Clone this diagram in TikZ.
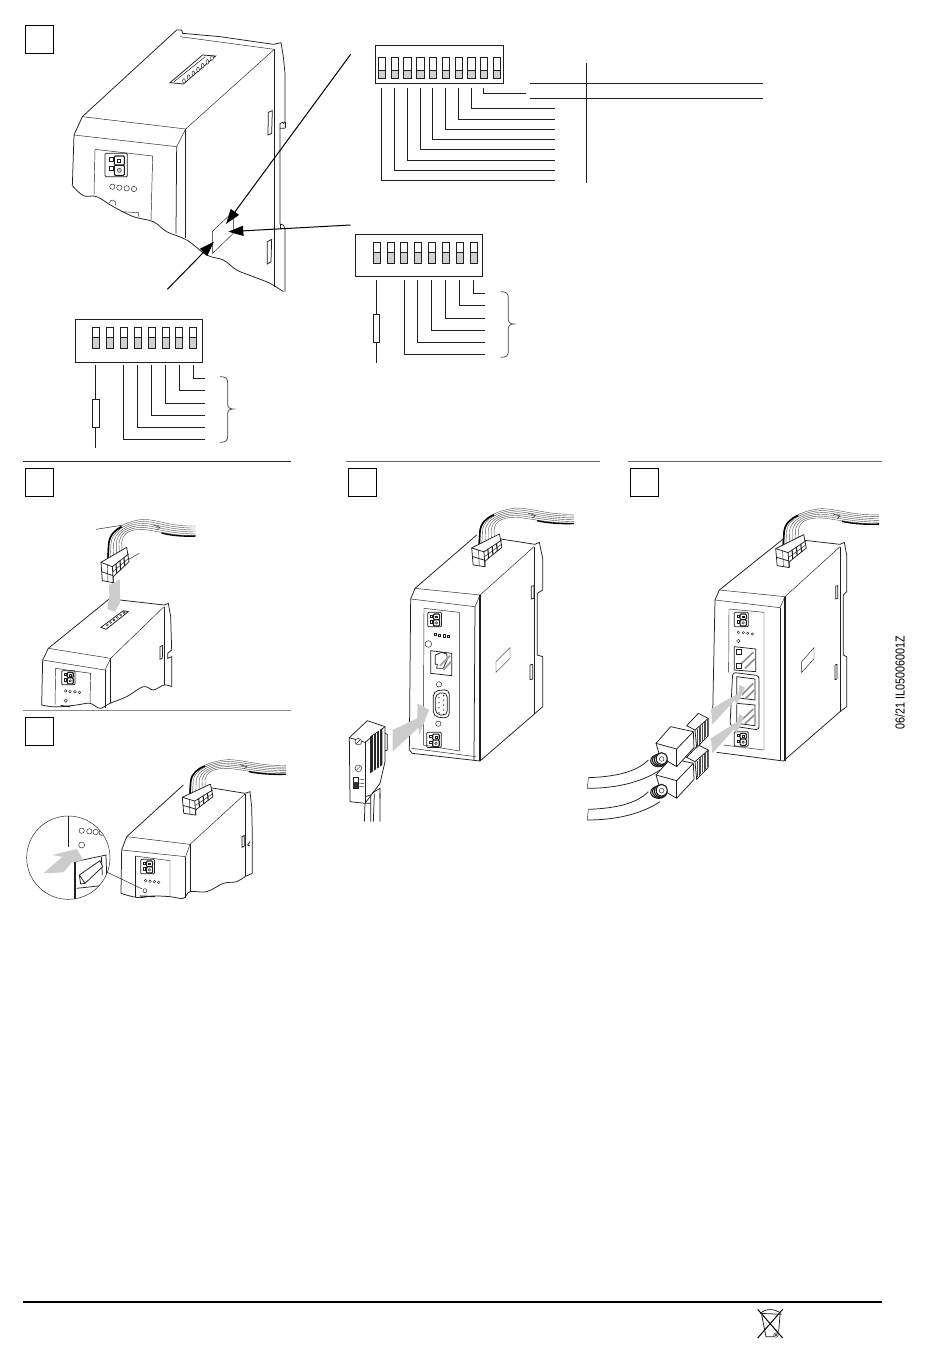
\documentclass[tikz,border=0pt]{standalone}
\usepackage{fontspec}
\setmainfont{Liberation Sans}
\usetikzlibrary{arrows.meta}
\definecolor{sw}{gray}{0.82}
\definecolor{grayarrow}{gray}{0.80}
\definecolor{ln}{gray}{0.12}
\tikzset{
 thinl/.style={line width=.45pt,draw=ln},
 medl/.style={line width=.75pt,draw=ln},
 thickl/.style={line width=1.1pt,draw=ln},
 lead/.style={line width=.75pt,draw=ln},
 tagbox/.style={line width=1pt,draw=black,fill=white},
 garrow/.style={fill=grayarrow,draw=none},
 bigarrow/.style={line width=1pt,draw=black,-{Triangle[length=15pt,width=10pt]}},
 zoomA/.style={shift={(20,20)},scale=.33333},
 zoomB/.style={shift={(20,310)},scale=.33333},
 zoomD/.style={shift={(20,710)},scale=.33333},
 zoomC/.style={shift={(330,455)},scale=.33333},
 zoomE/.style={shift={(580,455)},scale=.33333},
 zoomT/.style={shift={(350,30)},scale=.33333},
 zoomW/.style={shift={(700,1280)},scale=.33333},
}
% terminal block, 67 x 70 units
\newcommand{\termblock}[1]{\begin{scope}[#1]
 \draw[medl,rounded corners=1pt] (0,0) rectangle (67,70);
 \draw[thinl] (12,12) rectangle (24,24) (12,40) rectangle (24,52);
 \draw[thickl,rounded corners=1pt] (28,8) rectangle (58,35) (28,36) rectangle (58,66);
 \draw[thinl] (38,17) rectangle (47,26);
 \draw[thinl,fill=sw] (43,51) circle[radius=6];
\end{scope}}
% ribbon cable with connector: origin = (left of block, top of ribbon)
\newcommand{\ribbon}[1]{\begin{scope}[#1]\begin{scope}[shift={(-243,-627)}]
 \fill[white] (262,745) -- (265,700) .. controls (268,660) and (320,632) .. (370,628) .. controls (420,630) and (450,650) .. (527,648) -- (527,678) .. controls (450,680) and (420,665) .. (370,658) .. controls (335,660) and (308,670) .. (307,745) -- cycle;
 \foreach \t in {0,...,5}{
  \draw[line width=.4pt,draw=black!70] ({262+9*\t},745) -- ({265+8*\t},700) .. controls ({268+8*\t},{660+3*\t}) and (320,{632+5*\t}) .. (370,{628+6*\t}) .. controls (420,{630+7*\t}) and (450,{650+5*\t}) .. (527,{648+6*\t});
 }
 \draw[line width=1.6pt,black] (264,748) -- (266,705) .. controls (268,675) and (285,660) .. (305,650);
 \draw[line width=1.4pt,black] (425,669) .. controls (450,676) and (490,680) .. (527,678);
 \draw[thinl] (400,645) -- (420,652) -- (412,660);
 % connector block
 \draw[medl,fill=white,line join=round] (243,757) -- (320,712) -- (327,755) -- (280,800) -- (280,818) -- (247,812) -- cycle;
 \draw[medl] (243,757) -- (277,770) -- (326,732);
 \draw[medl] (277,770) -- (280,818);
 \draw[medl] (245,785) -- (279,797);
 \draw[thinl] (279,785) -- (326,745);
 \draw[thickl] (288,762) -- (290,790) (300,752) -- (302,780) (312,742) -- (314,768);
 \draw[thinl] (262,764) -- (264,815);
\end{scope}\end{scope}}
% plug of panel E
\newcommand{\rjplug}[1]{\begin{scope}[#1]
 % cable
 \fill[white] (25,968) .. controls (110,965) and (170,950) .. (205,915) -- (240,945) .. controls (180,985) and (100,1000) .. (22,1000) -- cycle;
 \draw[medl] (25,968) .. controls (110,965) and (170,950) .. (205,915);
 \draw[medl] (240,945) .. controls (180,985) and (100,1000) .. (22,1000);
 \draw[thinl] (25,968) -- (22,1000);
 % head
 \draw[medl,fill=white] (320,812) -- (355,775) -- (385,790) -- (385,842) -- (350,878) -- (345,825) -- cycle;
 \draw[medl] (345,825) -- (385,790);
 \foreach \k in {0,...,6}{\draw[line width=.35pt,draw=black!70] ({352+5*\k},{822-5*\k}) -- ({352+5*\k},{872-5*\k});}
 % body
 \draw[medl,fill=white,line join=round] (228,865) -- (272,815) -- (340,830) -- (342,878) -- (290,935) -- (240,905) -- cycle;
 \draw[medl] (228,865) -- (290,882) -- (340,830);
 \draw[medl] (290,882) -- (290,935);
 % strain relief
 \foreach \k in {0,1,2,3}{\draw[thickl,fill=white] ({236+3*\k},{917-2*\k}) ellipse[x radius={24-2.5*\k},y radius={18+.0*\k}];}
 \draw[thinl,fill=white] (245,912) circle[radius=7];
\end{scope}}
\newcommand{\sidelabel}[1]{\draw[thinl] #1;}
\begin{document}
\begin{tikzpicture}[x=1pt,y=-1pt]
\useasboundingbox (0,0) rectangle (950,1353);
\fill[white] (0,0) rectangle (950,1353);

%%%%%%%%%%%%%% Rules
\draw[line width=1.3pt,draw=black!85] (23,461.7) -- (291,461.7);
\draw[line width=.8pt,draw=black!60] (346,461.5) -- (600,461.5);
\draw[line width=.8pt,draw=black!60] (628,461.5) -- (882,461.5);
\draw[line width=.8pt,draw=black!45] (23,710.5) -- (291,710.5);
\draw[line width=1.8pt,black] (23,1302) -- (882,1302);

%%%%%%%%%%%%%% Panel A
\begin{scope}[zoomA]
 \draw[tagbox] (17,15) rectangle (100,100);
 \draw[medl,line join=round] (470,30) -- (187,290) -- (162,345) -- (157,497);
 \draw[medl] (470,30) -- (485,30) -- (488,40) -- (600,50) -- (760,73) -- (783,68);
 \draw[thinl] (480,50) -- (763,88);
 \draw[thinl] (187,290) -- (497,327) -- (763,88);
 \draw[thinl] (162,345) -- (470,380);
 \draw[thinl] (497,327) -- (470,380);
 \draw[medl] (470,380) -- (468,640);
 \draw[thickl] (497,327) -- (497,655);
 \draw[thickl] (763,88) -- (763,800);
 \draw[medl] (783,68) -- (790,110) -- (795,160) -- (795,305) -- (790,312) (795,325) -- (780,325) -- (780,310) -- (790,307);
 \draw[medl] (780,325) -- (780,612) -- (790,615) -- (795,625) -- (795,815);
 \draw[thinl] (795,305) -- (795,325) (780,612) -- (780,625) -- (795,625);
 \draw[medl] (745,277) -- (757,272) -- (755,340) -- (744,345) -- cycle;
 \draw[medl] (742,665) -- (755,658) -- (753,725) -- (742,732) -- cycle;
 \draw[medl] plot[smooth,tension=.6] coordinates {(157,497) (190,527) (230,530) (280,560) (340,590) (400,605) (440,635) (500,660) (560,705) (610,720) (650,750) (700,770) (750,790) (790,815)};
 % top slot
 \draw[medl] (450,188) -- (548,105) -- (587,108) -- (490,192) -- cycle;
 \draw[thinl] (462,185) -- (556,110);
 \foreach \k in {0,...,6}{\draw[thinl,fill=white] ({492+14*\k},{183-11.5*\k}) ellipse[x radius=4,y radius=7];}
 % front
 \draw[thinl] (225,388) -- (398,408) -- (393,603);
 \draw[thinl] (225,388) -- (222,525);
 \termblock{shift={(255,400)}}
 \foreach \k/\yy in {277/500,298/503,320/505,342/507}{\draw[thinl] (\k,\yy) circle[radius=8];}
 \draw[thinl] (268,548) .. controls (272,535) and (290,538) .. (287,556);
 \draw[thinl] (305,575) -- (355,578) -- (357,592);
 % switch flap
 \draw[thinl] (578,633) -- (640,575) -- (640,640) -- (578,700) -- cycle;
 % arrows
 \coordinate (a1s) at (992,103); \coordinate (a1e) at (618,612);
 \coordinate (a2s) at (992,615); \coordinate (a2e) at (625,635);
 \coordinate (a3s) at (442,808); \coordinate (a3e) at (582,665);
 \draw[bigarrow] (a1s) -- (a1e);
 \draw[bigarrow] (a2s) -- (a2e);
 \draw[bigarrow] (a3s) -- (a3e);
\end{scope}

%%%%%%%%%%%%%% DIP switches, upper right
\begin{scope}[zoomT]
 \draw[medl] (76,46) rectangle (461,160);
 \foreach \x in {96,134,172,211,249,288,326,364,402,441}{
  \fill[sw] ({\x-11},122) rectangle ({\x+11},145);
  \draw[medl] ({\x-11},81) rectangle ({\x+11},145);
  \draw[medl] ({\x-11},122) -- ({\x+11},122);
 }
 \foreach \x/\yy in {94/451,133/421,172/391,211/358,248/328,287/298,325/268,364/235}{
  \draw[lead] (\x,175) -- (\x,\yy) -- (615,\yy);
 }
 \draw[lead] (400,175) -- (400,190) -- (527,190);
 \draw[lead] (540,160) -- (1240,160);
 \draw[lead] (540,205) -- (1240,205);
 \draw[lead] (709,100) -- (709,460);
 % second
 \draw[medl] (16,613) rectangle (398,740);
 \foreach \x in {81,123,162,204,246,288,330,372}{
  \fill[sw] ({\x-11},668) rectangle ({\x+11},700);
  \draw[medl] ({\x-11},637) rectangle ({\x+11},700);
  \draw[medl] ({\x-11},668) -- ({\x+11},668);
 }
 \foreach \x/\yy in {163/972,203/937,245/901,287/865,328/827,370/790}{
  \draw[lead] (\x,750) -- (\x,\yy) -- (405,\yy);
 }
 \draw[lead] (79,750) -- (79,1000);
 \draw[lead,fill=white] (70,853) rectangle (88,937);
 \draw[line width=.7pt,draw=black!75] (452,785) .. controls (470,785) and (475,790) .. (475,805) -- (475,868) .. controls (475,878) and (482,882) .. (492,882) .. controls (482,882) and (475,886) .. (475,896) -- (475,962) .. controls (475,977) and (470,982) .. (452,982);
\end{scope}

%%%%%%%%%%%%%% DIP switch, left, and Panel B
\begin{scope}[zoomB]
 \draw[medl] (166,28) rectangle (548,157);
 \foreach \x in {228,270,312,354,396,438,477,518}{
  \fill[sw] ({\x-11},83) rectangle ({\x+11},116);
  \draw[medl] ({\x-11},52) rectangle ({\x+11},116);
  \draw[medl] ({\x-11},83) -- ({\x+11},83);
 }
 \foreach \x/\yy in {311/388,353/352,395/316,437/280,479/241,521/205}{
  \draw[lead] (\x,165) -- (\x,\yy) -- (555,\yy);
 }
 \draw[lead] (226,165) -- (226,415);
 \draw[lead,fill=white] (217,268) rectangle (239,352);
 \draw[line width=.7pt,draw=black!75] (600,200) .. controls (618,200) and (623,205) .. (623,220) -- (623,283) .. controls (623,293) and (630,297) .. (640,297) .. controls (630,297) and (623,301) .. (623,311) -- (623,378) .. controls (623,392) and (618,397) .. (600,397);
 \draw[tagbox] (17,475) rectangle (100,558);

 % device B
 \draw[medl,line join=round] (270,865) -- (85,1015) -- (68,1050) -- (65,1185);
 \draw[medl] (270,865) -- (300,870) -- (432,885) -- (445,880) -- (452,920) -- (455,1020) -- (443,1030) -- (443,1045) -- (455,1040) -- (455,1130);
 \draw[thinl] (85,1015) -- (272,1045) -- (432,890);
 \draw[thinl] (68,1050) -- (255,1080);
 \draw[thinl] (272,1045) -- (255,1080);
 \draw[medl] (255,1080) -- (255,1195);
 \draw[medl] (272,1045) -- (272,1180);
 \draw[medl] (432,890) -- (432,1125);
 \draw[thinl] (107,1075) -- (212,1090) -- (210,1180);
 \draw[thinl] (107,1075) -- (105,1185);
 \termblock{shift={(125,1082)},scale=.6}
 \foreach \k/\yy in {137/1143,150/1145,165/1145,178/1147}{\draw[thinl] (\k,\yy) circle[radius=4];}
 \draw[thinl] (137,1172) circle[radius=5];
 \draw[thickl] (122,1187) -- (150,1190);
 \draw[medl] plot[smooth,tension=.6] coordinates {(65,1185) (95,1190) (125,1190) (170,1185) (210,1180) (240,1195) (270,1180) (320,1160) (370,1130) (400,1140) (432,1125) (455,1130)};
 \draw[medl] (243,952) -- (310,902) -- (325,905) -- (258,958) -- cycle;
 \foreach \k in {0,...,5}{\draw[thinl] ({262+10*\k},{945-7.5*\k}) circle[radius=3];}
 \draw[medl] (420,1010) -- (428,1006) -- (427,1045) -- (420,1048) -- cycle;
 \fill[garrow] (267,825) -- (300,808) -- (300,878) -- (285,905) -- (262,897) -- (268,857) -- cycle;
 \draw[thinl] (228,658) -- (310,645);
 \draw[thinl] (305,760) -- (358,730);
\end{scope}
\ribbon{shift={(101,519)},xscale=.3333,yscale=.3333}

%%%%%%%%%%%%%% Panel D
\begin{scope}[zoomD]
 \draw[tagbox] (17,23) rectangle (100,106);
 \draw[medl,line join=round] (490,225) -- (320,380) -- (305,420) -- (303,550);
 \draw[medl] (565,232) -- (675,250) -- (690,245) -- (695,290) -- (697,375) -- (697,490);
 \draw[thinl] (320,380) -- (510,403) -- (675,252);
 \draw[thinl] (305,420) -- (497,440);
 \draw[thinl] (510,403) -- (497,440);
 \draw[medl] (497,440) -- (497,565);
 \draw[medl] (510,403) -- (510,545);
 \draw[medl] (675,252) -- (675,500);
 \draw[medl] (690,395) -- (683,405) -- (690,408);
 \draw[thinl] (345,438) -- (450,452) -- (450,560);
 \draw[thinl] (345,438) -- (345,560);
 \termblock{shift={(362,448)},scale=.62}
 \foreach \k/\yy in {377/512,390/514,403/515,416/517}{\draw[thinl] (\k,\yy) circle[radius=4];}
 \draw[thinl] (375,542) circle[radius=6];
 \draw[thickl] (360,558) -- (405,560);
 \draw[medl] plot[smooth,tension=.6] coordinates {(303,550) (330,558) (360,563) (400,558) (450,560) (490,565) (510,545) (560,545) (610,520) (650,515) (675,500) (697,490)};
 \draw[medl] (666,380) -- (673,376) -- (673,408) -- (666,412) -- cycle;
 % loupe
 \draw[thinl] (145,443) circle[radius=125];
 \begin{scope}
  \clip (145,443) circle[radius=125];
  \draw[thinl] (145,318) -- (145,410);
  \foreach \k/\yy in {185/362,208/364,227/366,245/368}{\draw[thinl] (\k,\yy) circle[radius=8];}
  \draw[thinl] (185,405) circle[radius=9];
  \draw[thickl] (165,455) -- (165,570);
  \draw[medl] (165,455) -- (258,435) -- (260,495);
  \draw[medl] (244,440) -- (247,495);
  \draw[medl,fill=white] (178,495) -- (240,452) -- (248,470) -- (195,520) -- cycle;
  \draw[medl] (178,495) -- (182,522) -- (195,520);
  \draw[medl] (170,535) -- (262,525);
 \end{scope}
 \fill[garrow] (70,490) -- (128,440) -- (95,435) -- (170,417) -- (190,450) -- (155,458) -- (130,487) -- cycle;
 \coordinate (ld1) at (262,487); \coordinate (ld2) at (367,537);
 \draw[thinl] (ld1) -- (ld2);
\end{scope}
\ribbon{shift={(182.3,759.3)},xscale=.365,yscale=.292}

%%%%%%%%%%%%%% Panel C
\begin{scope}[zoomC]
 \draw[tagbox] (55,40) rectangle (138,123);
 \draw[medl,line join=round] (440,240) -- (255,400) -- (242,432) -- (238,885) -- (247,895) -- (450,918) -- (612,778) -- (638,755) -- (638,605) -- (622,600) -- (622,415) -- (638,405) -- (638,310) -- (628,262) -- (615,268) -- (500,250);
 \draw[thinl] (255,400) -- (450,420) -- (612,275);
 \draw[thinl] (242,432) -- (435,455);
 \draw[thinl] (450,420) -- (435,455);
 \draw[medl] (435,455) -- (432,915);
 \draw[thickl] (450,420) -- (450,918);
 \draw[medl] (612,275) -- (612,778);
 \draw[thinl] (245,880) -- (438,905);
 \draw[thinl] (282,460) -- (388,472) -- (388,888) -- (280,870) -- cycle;
 \termblock{shift={(293,472)},scale=.62}
 \foreach \k/\yy in {315/538,328/540,342/542,355/544}{\draw[thinl] ({\k-3.5},{\yy-3.5}) rectangle ({\k+3.5},{\yy+3.5});}
 \draw[thinl] (295,567) circle[radius=10];
 % RJ45
 \draw[medl] (302,587) -- (365,595) -- (365,662) -- (302,655) -- cycle;
 \draw[medl] (316,600) -- (335,592) -- (350,597) -- (352,612) -- (340,640) -- (320,640) -- (322,628) -- (316,628) -- cycle;
 \draw[line width=2pt,draw=ln!40] (330,632) -- (360,602) (340,645) -- (363,620);
 % D-SUB
 \draw[medl,rounded corners=5pt] (310,708) -- (358,703) -- (358,790) -- (310,785) -- cycle;
 \draw[medl,rounded corners=5pt] (316,716) -- (352,712) -- (352,782) -- (316,778) -- cycle;
 \draw[thinl] (327,688) circle[radius=8] (325,806) circle[radius=8];
 \foreach \yy in {728,743,758,773}{\fill[black] (327,\yy) circle[radius=2];}
 \foreach \yy in {722,735,750,765,778}{\fill[black] (341,\yy) circle[radius=2];}
 \termblock{shift={(290,832)},scale=.65}
 % side label
 \draw[thinl] (498,620) -- (540,578) -- (540,610) -- (498,652) -- cycle;
 \draw[medl] (604,394) -- (612,392) -- (612,430) -- (604,432) -- cycle;
 \draw[medl] (600,630) -- (608,628) -- (608,672) -- (600,674) -- cycle;
 % gray arrow
 \fill[garrow] (188,825) -- (262,790) -- (262,745) -- (297,765) -- (268,840) -- (265,818) -- (188,890) -- cycle;
 % DSUB plug
 \draw[medl,fill=white,line join=round] (58,848) -- (112,797) -- (165,815) -- (165,920) -- (150,985) -- (105,1045) -- (60,1040) -- cycle;
 \draw[medl] (58,848) -- (105,862) -- (165,815);
 \draw[medl] (105,862) -- (105,1045);
 \draw[medl] (165,835) -- (172,838) -- (172,885) -- (165,888);
 \fill[black!85] (120,845) -- (157,820) -- (157,930) -- (120,955) -- cycle;
 \foreach \k in {1,2,3}{\draw[line width=.8pt,white] ({120+9.2*\k},{845-6.2*\k}) -- ({120+9.2*\k},{955-6.2*\k});}
 \draw[thinl,fill=white] (85,860) circle[radius=10] (85,940) circle[radius=10];
 \draw[thinl] (79,866) -- (91,854) (79,946) -- (91,934);
 \draw[medl] (70,968) rectangle (85,1000);
 \fill[black!80] (70,982) rectangle (85,1000);
 \draw[thinl] (88,972) -- (102,974) (88,984) -- (102,986) (88,994) -- (102,996);
 \draw[medl] (105,1025) -- (122,1020) -- (122,1045) -- (105,1045);
 \draw[medl] (125,1015) -- (150,1000) -- (150,1030);
 \draw[medl] (105,1045) -- (103,1100) (122,1045) -- (122,1100) (133,1015) -- (130,1100) (150,1015) -- (150,1100);
\end{scope}
\ribbon{shift={(471.7,507.7)},xscale=.36,yscale=.309}

%%%%%%%%%%%%%% Panel E
\begin{scope}[zoomE]
 \draw[tagbox] (150,40) rectangle (235,123);
 \draw[medl,line join=round] (612,250) -- (418,405) -- (405,435) -- (398,780);
 \draw[medl,line join=round] (410,892) -- (610,918) -- (780,770) -- (800,755) -- (800,605) -- (790,600) -- (790,420) -- (800,410) -- (800,300) -- (793,262) -- (780,268) -- (665,255);
 \draw[thinl] (418,405) -- (615,425) -- (780,275);
 \draw[thinl] (405,435) -- (600,458);
 \draw[thinl] (615,425) -- (600,458);
 \draw[medl] (600,458) -- (600,915);
 \draw[thickl] (615,425) -- (615,918);
 \draw[medl] (780,275) -- (780,770);
 \draw[thinl] (447,462) -- (552,472) -- (552,885) -- (430,870);
 \draw[thinl] (447,462) -- (446,652);
 \termblock{shift={(463,472)},scale=.62}
 \foreach \k/\yy in {475/532,490/533,503/535,517/537}{\draw[thinl] (\k,\yy) circle[radius=3.5];}
 \draw[thinl] (475,558) circle[radius=5];
 \draw[medl] (463,575) -- (527,582) -- (527,650) -- (463,645) -- cycle;
 \draw[thinl] (470,582) rectangle (483,597) (470,625) rectangle (483,640);
 \draw[line width=1.6pt,draw=ln!50] (485,625) -- (520,592) (495,640) -- (524,612);
 \draw[medl,rounded corners=3pt] (458,652) -- (537,662) -- (537,825) -- (450,812) -- cycle;
 \draw[medl] (470,665) -- (525,672) -- (525,735) -- (470,728) -- cycle;
 \draw[medl] (470,745) -- (525,750) -- (525,812) -- (470,805) -- cycle;
 \draw[line width=1.6pt,draw=ln!50] (485,720) -- (520,685) (495,732) -- (523,705) (485,795) -- (520,762) (495,806) -- (523,780);
 \termblock{shift={(463,830)},scale=.62}
 \draw[thinl] (665,620) -- (702,578) -- (702,612) -- (665,652) -- cycle;
 \draw[medl] (767,394) -- (773,392) -- (773,430) -- (767,432) -- cycle;
 \draw[medl] (765,630) -- (771,628) -- (771,672) -- (765,674) -- cycle;
 \fill[garrow] (393,762) -- (475,715) -- (478,690) -- (495,698) -- (470,750) -- (465,735) -- (397,808) -- cycle;
 \fill[garrow] (393,850) -- (472,800) -- (478,778) -- (492,785) -- (470,835) -- (463,822) -- (397,895) -- cycle;
 \rjplug{shift={(0,95)}}
 \rjplug{shift={(0,0)}}
\end{scope}
\ribbon{shift={(775.7,508.3)},xscale=.364,yscale=.31}

%%%%%%%%%%%%%% Side text
\node[rotate=90,inner sep=0pt] (code) at (900,683) {\scalebox{.83}[1]{\fontsize{13}{13}\selectfont 06/21 IL05006001Z}};

%%%%%%%%%%%%%% WEEE icon
\begin{scope}[zoomW]
 \draw[line width=1pt,black] (173,88) -- (248,174);
 \draw[line width=1pt,black] (248,88) -- (173,174);
 \draw[medl] (185,105) -- (198,170) -- (222,170);
 \draw[medl] (240,105) -- (236,155);
 \draw[medl] (182,100) .. controls (195,85) and (225,85) .. (242,100);
 \draw[medl] (180,100) -- (245,103);
 \draw[thinl,fill=white] (228,165) circle[radius=7];
 \draw[thinl] (228,165) circle[radius=3];
\end{scope}
\end{tikzpicture}
\end{document}
